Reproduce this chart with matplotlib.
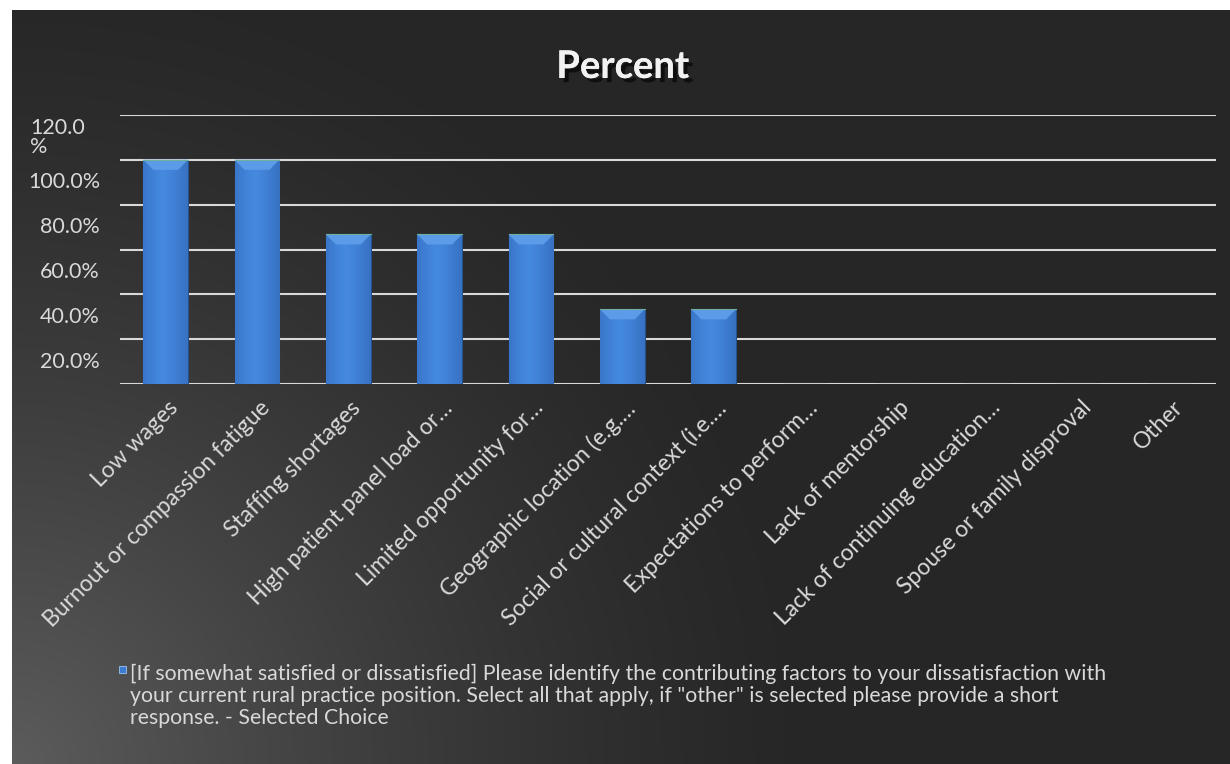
import numpy as np
import matplotlib.pyplot as plt
from matplotlib.patches import Polygon, Rectangle
import matplotlib.patheffects as pe

plt.rcParams['font.family'] = ['Lato', 'DejaVu Sans']

categories = ["Low wages", "Burnout or compassion fatigue", "Staffing shortages",
              "High patient panel load or\u2026", "Limited opportunity for\u2026",
              "Geographic location (e.g.\u2026", "Social or cultural context (i.e.\u2026",
              "Expectations to perform\u2026", "Lack of mentorship",
              "Lack of continuing education\u2026", "Spouse or family disproval", "Other"]
percent = [100.0, 100.0, 66.7, 66.7, 66.7, 33.3, 33.3, 0, 0, 0, 0, 0]

grid_values = [0, 20, 40, 60, 80, 100, 120]
ytick_values = [20, 40, 60, 80, 100, 120]
ytick_labels = ["20.0%", "40.0%", "60.0%", "80.0%", "100.0%", "120.0\n%"]

legend_text = ('[If somewhat satisfied or dissatisfied] Please identify the contributing factors to your dissatisfaction with\n'
               'your current rural practice position. Select all that apply, if "other" is selected please provide a short\n'
               'response. - Selected Choice')

W, H = 1230, 764
TXT = '#d9d9d9'
PT = 0.72  # points per pixel at 100 dpi
fig = plt.figure(figsize=(W / 100, H / 100), dpi=100)
fig.patch.set_facecolor('white')

# dark background with a soft light glow from the lower left corner
bg = fig.add_axes([12 / W, 0, (W - 12) / W, (H - 10) / H])
bg.set_axis_off()
gy, gx = np.mgrid[0:754, 0:1218]
d = np.hypot(gx, 754 - gy)
t = np.clip(1 - d / 820, 0, 1) ** 1.4
dark, light = 38 / 255, 92 / 255
shade = dark + (light - dark) * t
bg.imshow(np.dstack([shade] * 3), aspect='auto', extent=(0, 1, 0, 1), origin='upper')
bg.set_xlim(0, 1)
bg.set_ylim(0, 1)

ax = fig.add_axes([120 / W, 1 - 384 / H, 1096 / W, 269 / H])
ax.set_facecolor('none')
ax.set_xlim(0, len(categories))
ax.set_ylim(0, 120)
for s in ax.spines.values():
    s.set_visible(False)

for g in grid_values:
    ax.axhline(g, color='#d9d9d9', lw=1.5, zorder=1)

x = np.arange(len(categories)) + 0.5
bw = 0.49
bars = ax.bar(x, percent, width=bw, color='#3b7bd2', edgecolor='#24528f',
              linewidth=0.8, zorder=2)

# horizontal shading across each bar and a bevelled top face
grad = np.linspace(0, 1, 64)
prof = 1 - 0.55 * np.abs(grad - 0.45) ** 1.2 * 2
img = np.dstack([0.17 + 0.10 * prof, 0.36 + 0.18 * prof, 0.66 + 0.22 * prof])
px_x = 1096 / len(categories)
px_y = 269 / 120
for b in bars:
    h = b.get_height()
    if h <= 0:
        continue
    x0 = b.get_x()
    im = ax.imshow(img, aspect='auto', extent=(x0, x0 + bw, 0, h), zorder=2.5)
    im.set_clip_path(b)
    ix = 10 / px_x
    iy = 10 / px_y
    top = Polygon([(x0, h), (x0 + bw, h), (x0 + bw - ix, h - iy), (x0 + ix, h - iy)],
                  closed=True, facecolor='#5c9be8', edgecolor='none', zorder=3)
    ax.add_patch(top)
    ax.plot([x0, x0 + bw], [h, h], color='#6fae9a', lw=0.8, zorder=3.2)

ax.set_yticks([])
for v, lab in zip(ytick_values, ytick_labels):
    if '\n' in lab:
        ax.annotate(lab, xy=(0, v - 10), xycoords=ax.get_yaxis_transform(),
                    xytext=(-90 * PT, 0), textcoords='offset points',
                    ha='left', va='center', fontsize=15.5, color=TXT,
                    linespacing=0.95)
    else:
        ax.annotate(lab, xy=(0, v - 10), xycoords=ax.get_yaxis_transform(),
                    xytext=(-20 * PT, 0), textcoords='offset points',
                    ha='right', va='center', fontsize=15.5, color=TXT)

ax.set_xticks([])
for xi, lab in zip(x, categories):
    ax.annotate(lab, xy=(xi, 0), xycoords='data',
                xytext=(2 * PT, -13 * PT), textcoords='offset points',
                ha='right', va='top', rotation=45, rotation_mode='anchor',
                fontsize=16.5, color=TXT)

fig.text(623 / W, 1 - 67 / H, 'Percent', ha='center', va='center',
         fontsize=27.5, fontweight='bold', color='#f2f2f2',
         path_effects=[pe.withSimplePatchShadow(offset=(3, -3), shadow_rgbFace='black', alpha=0.6),
                       pe.Normal()])

fig.patches.append(Rectangle((119 / W, 1 - 673 / H), 7 / W, 7 / H,
                             transform=fig.transFigure, facecolor='#3b7bd2',
                             edgecolor='#9cc3f0', lw=0.6))
fig.text(130 / W, 1 - 664 / H, legend_text, ha='left', va='top',
         fontsize=15.3, color=TXT, linespacing=1.13)

fig.savefig('out.png', dpi=100, facecolor=fig.get_facecolor())
